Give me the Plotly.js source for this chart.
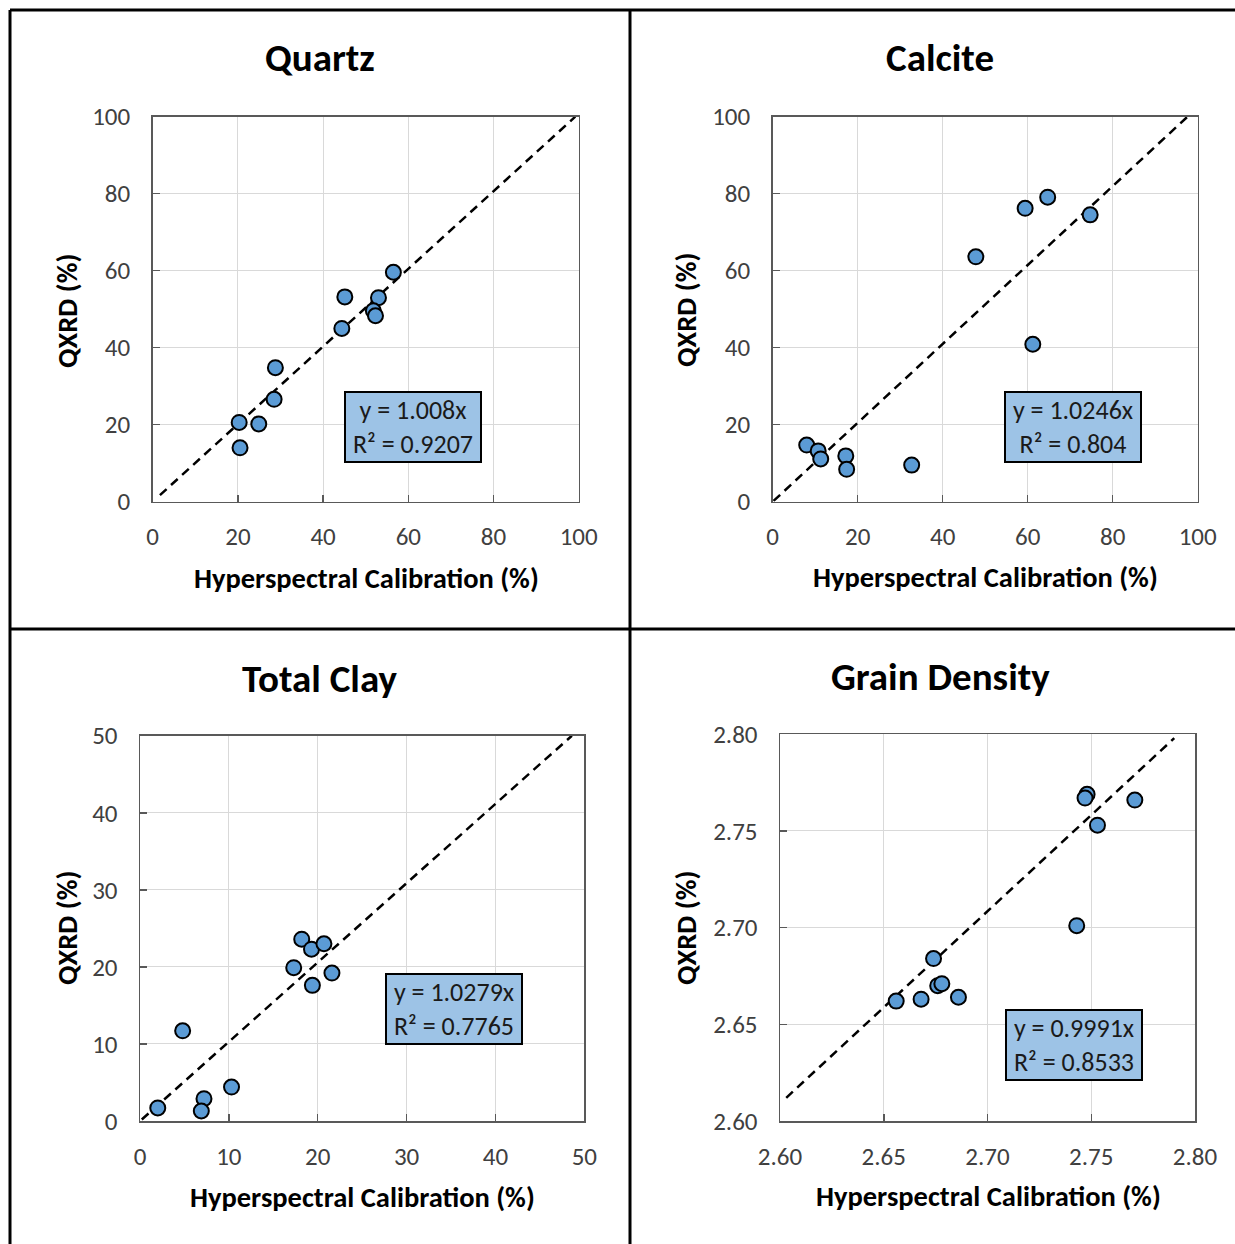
<!DOCTYPE html>
<html>
<head>
<meta charset="utf-8">
<script src="https://cdn.plot.ly/plotly-3.0.1.min.js"></script>
<style>html,body{margin:0;padding:0;background:#fff;}#chart{width:1235px;height:1244px;}</style>
</head>
<body>
<div id="chart"></div>
<script>
// ---- Data ----
const panelTitles = ["Quartz", "Calcite", "Total Clay", "Grain Density"];
const xTitle = "Hyperspectral Calibration (%)";
const yTitle = "QXRD (%)";

const quartzX = [56.5, 45.1, 53.0, 51.8, 52.3, 44.4, 28.8, 28.5, 20.3, 24.9, 20.5];
const quartzY = [59.6, 53.2, 53.0, 49.6, 48.3, 45.0, 34.8, 26.6, 20.6, 20.2, 14.0];

const calciteX = [8.0, 10.7, 11.3, 17.2, 17.4, 32.7, 47.8, 59.4, 64.7, 74.7, 61.2];
const calciteY = [14.7, 13.2, 11.1, 11.9, 8.4, 9.5, 63.6, 76.2, 79.1, 74.5, 40.9];

const clayX = [2.0, 4.8, 7.2, 6.9, 10.3, 17.3, 18.2, 19.3, 20.7, 21.6, 19.4];
const clayY = [1.7, 11.7, 2.9, 1.3, 4.4, 19.9, 23.6, 22.3, 23.0, 19.2, 17.6];

const densityX = [2.656, 2.668, 2.674, 2.676, 2.678, 2.686, 2.743, 2.748, 2.747, 2.753, 2.771];
const densityY = [2.662, 2.663, 2.684, 2.670, 2.671, 2.664, 2.701, 2.769, 2.767, 2.753, 2.766];

// trend lines (endpoints as drawn)
const quartzFitX = [1.7, 99.2];   const quartzFitY = [1.7, 100];
const calciteFitX = [0.2, 97.6];  const calciteFitY = [0.2, 100];
const clayFitX = [0.2, 48.6];     const clayFitY = [0.2, 50];
const densityFitX = [2.603, 2.790]; const densityFitY = [2.612, 2.798];

const equations = ["y = 1.008x", "y = 1.0246x", "y = 1.0279x", "y = 0.9991x"];
const rSquared = ["R² = 0.9207", "R² = 0.804", "R² = 0.7765", "R² = 0.8533"];

const axisRanges = [[0, 100], [0, 100], [0, 50], [2.60, 2.80]];
const axisDticks = [20, 20, 10, 0.05];
const tickFormats = ["d", "d", "d", ".2f"];

// ---- Layout geometry (pixels) ----
const W = 1235, H = 1244;
const px = x => x / W;
const py = y => 1 - y / H;
const FONT = "Calibri, Carlito, Lato, sans-serif";

// plot areas [left, right, top, bottom]
const areas = [
  [152.7, 578.7, 116.7, 501.7],
  [772.7, 1197.7, 116.7, 501.7],
  [140, 584.3, 735.7, 1121],
  [780, 1195, 734.3, 1121]
];
const titlePos = [[320, 58], [940, 57], [319, 678], [940, 677]];
const xTitlePos = [[366, 578], [985, 577], [362, 1197], [988, 1196]];
const yTitlePos = [[67, 311], [686, 310], [67, 928], [686, 928]];
const boxPos = [[413.3, 427.2], [1073.3, 427.2], [453.7, 1009.2], [1074, 1044.9]];

const xs = [quartzX, calciteX, clayX, densityX];
const ys = [quartzY, calciteY, clayY, densityY];
const fx = [quartzFitX, calciteFitX, clayFitX, densityFitX];
const fy = [quartzFitY, calciteFitY, clayFitY, densityFitY];

const traces = [];
const layout = {
  width: W, height: H,
  margin: {l: 0, r: 0, t: 0, b: 0},
  paper_bgcolor: "#ffffff",
  plot_bgcolor: "#ffffff",
  showlegend: false,
  font: {family: FONT, color: "#404040"},
  annotations: [],
  shapes: []
};

for (let i = 0; i < 4; i++) {
  const sfx = i === 0 ? "" : String(i + 1);
  const xa = "x" + sfx, ya = "y" + sfx;
  traces.push({
    x: fx[i], y: fy[i], xaxis: xa, yaxis: ya,
    type: "scatter", mode: "lines",
    line: {color: "#000000", width: 2.5, dash: "9px,6px"},
    hoverinfo: "skip"
  });
  traces.push({
    x: xs[i], y: ys[i], xaxis: xa, yaxis: ya,
    type: "scatter", mode: "markers",
    marker: {size: 15, color: "#5B9BD5", line: {color: "#000000", width: 2}},
    cliponaxis: false
  });
  const a = areas[i];
  const common = {
    range: axisRanges[i], dtick: axisDticks[i], tick0: axisRanges[i][0],
    tickformat: tickFormats[i],
    showgrid: true, gridcolor: "#d9d9d9", gridwidth: 1,
    zeroline: false,
    showline: true, linecolor: "#595959", linewidth: 1.5, mirror: true,
    ticks: "inside", ticklen: 7, tickcolor: "#595959", tickwidth: 1.5,
    tickfont: {family: FONT, size: 25, color: "#404040"},
    fixedrange: true
  };
  layout["xaxis" + sfx] = Object.assign({}, common, {
    domain: [px(a[0]), px(a[1])], anchor: ya, ticklabelstandoff: 12
  });
  layout["yaxis" + sfx] = Object.assign({}, common, {
    domain: [py(a[3]), py(a[2])], anchor: xa, ticklabelstandoff: 16
  });

  layout.annotations.push({
    xref: "paper", yref: "paper", x: px(titlePos[i][0]), y: py(titlePos[i][1]),
    xanchor: "center", yanchor: "middle", showarrow: false,
    text: "<b>" + panelTitles[i] + "</b>",
    font: {family: FONT, size: 39, color: "#000000"}
  });
  layout.annotations.push({
    xref: "paper", yref: "paper", x: px(xTitlePos[i][0]), y: py(xTitlePos[i][1]),
    xanchor: "center", yanchor: "middle", showarrow: false,
    text: "<b>" + xTitle + "</b>",
    font: {family: FONT, size: 28.5, color: "#000000"}
  });
  layout.annotations.push({
    xref: "paper", yref: "paper", x: px(yTitlePos[i][0]), y: py(yTitlePos[i][1]),
    xanchor: "center", yanchor: "middle", showarrow: false, textangle: -90,
    text: "<b>" + yTitle + "</b>",
    font: {family: FONT, size: 28.5, color: "#000000"}
  });
  layout.annotations.push({
    xref: "paper", yref: "paper", x: px(boxPos[i][0]), y: py(boxPos[i][1]),
    xanchor: "center", yanchor: "middle", showarrow: false,
    text: equations[i] + "<br>" + rSquared[i],
    align: "center",
    width: 130, height: 64,
    bgcolor: "#9DC3E6", bordercolor: "#000000", borderwidth: 2, borderpad: 2,
    font: {family: FONT, size: 26, color: "#1a1a1a"}
  });
}

// panel separator lines
const sep = [
  [10, 10, 1235, 10],
  [10, 10, 10, 1244],
  [630, 10, 630, 1244],
  [10, 629, 1235, 629]
];
sep.forEach(s => layout.shapes.push({
  type: "line", xref: "paper", yref: "paper",
  x0: px(s[0]), y0: py(s[1]), x1: px(s[2]), y1: py(s[3]),
  line: {color: "#000000", width: 3}, layer: "above"
}));

Plotly.newPlot("chart", traces, layout, {staticPlot: true, displayModeBar: false});
</script>
</body>
</html>
